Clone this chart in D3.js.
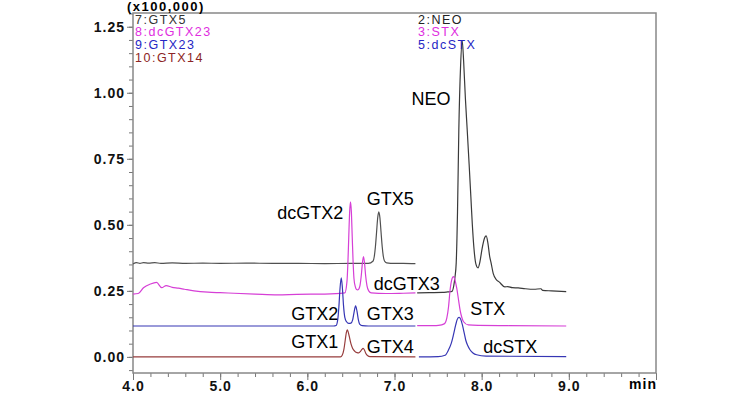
<!DOCTYPE html>
<html>
<head>
<meta charset="utf-8">
<script src="https://cdn.jsdelivr.net/npm/d3@7"></script>
<style>
  body { margin: 0; background: #fff; }
  text { font-family: "Liberation Sans", Arial, sans-serif; }
</style>
</head>
<body>
<div id="chart"></div>
<script>
// retention time (min), intensity (x100,000)
var gtx5 = [[4.00,0.352],[4.04,0.357],[4.08,0.354],[4.12,0.357],[4.18,0.355],[4.25,0.357],[4.32,0.354],
  [4.45,0.356],[4.60,0.354],[4.80,0.355],[5.00,0.354],[5.30,0.355],[5.60,0.354],[5.90,0.354],[6.20,0.353],
  [6.50,0.354],[6.70,0.354],[6.755,0.363],[6.768,0.380],[6.781,0.417],[6.794,0.471],[6.807,0.526],[6.82,0.549],
  [6.833,0.526],[6.846,0.471],[6.859,0.417],[6.872,0.380],[6.885,0.363],[6.91,0.356],[7.00,0.354],[7.10,0.354],[7.24,0.353]];

var neo = [[7.26,0.242],[7.40,0.243],[7.55,0.244],[7.61,0.246],[7.66,0.248],[7.68,0.27],[7.693,0.30],[7.708,0.356],
  [7.723,0.55],[7.738,0.86],[7.758,1.10],[7.777,1.197],[7.793,1.12],[7.813,0.98],[7.834,0.86],[7.856,0.73],
  [7.876,0.606],[7.893,0.50],[7.91,0.417],[7.935,0.35],[7.958,0.337],[7.98,0.36],[8.005,0.41],[8.033,0.45],
  [8.052,0.458],[8.072,0.43],[8.092,0.38],[8.108,0.356],[8.133,0.315],[8.17,0.292],[8.20,0.284],[8.266,0.265],
  [8.30,0.266],[8.35,0.262],[8.42,0.261],[8.50,0.258],[8.60,0.256],[8.68,0.258],[8.70,0.252],[8.80,0.250],[8.97,0.247]];

var dcgtx23 = [[4.00,0.238],[4.06,0.240],[4.12,0.262],[4.20,0.276],[4.27,0.282],[4.33,0.262],[4.38,0.270],
  [4.45,0.263],[4.52,0.260],[4.59,0.256],[4.70,0.250],[4.86,0.245],[5.00,0.243],[5.16,0.241],[5.40,0.238],
  [5.66,0.235],[5.88,0.237],[6.20,0.238],[6.43,0.242],[6.455,0.287],[6.465,0.353],[6.475,0.451],[6.485,0.546],
  [6.495,0.587],[6.505,0.550],[6.515,0.455],[6.525,0.360],[6.535,0.297],[6.55,0.266],[6.565,0.255],[6.575,0.254],
  [6.59,0.257],[6.605,0.272],[6.62,0.312],[6.632,0.356],[6.644,0.380],[6.656,0.356],[6.669,0.307],[6.684,0.270],
  [6.704,0.250],[6.734,0.242],[6.90,0.240],[7.10,0.241],[7.24,0.242]];

var stx = [[7.26,0.118],[7.45,0.118],[7.505,0.119],[7.57,0.125],[7.60,0.147],[7.62,0.19],[7.638,0.254],
  [7.655,0.290],[7.676,0.304],[7.695,0.290],[7.714,0.260],[7.735,0.215],[7.752,0.178],[7.77,0.152],
  [7.79,0.134],[7.847,0.121],[7.96,0.119],[8.30,0.118],[8.97,0.117]];

var gtx23 = [[4.00,0.117],[5.00,0.117],[6.00,0.117],[6.30,0.117],[6.33,0.119],[6.35,0.144],[6.362,0.190],
  [6.375,0.259],[6.389,0.299],[6.402,0.262],[6.415,0.195],[6.43,0.150],[6.45,0.133],[6.475,0.127],[6.50,0.128],
  [6.52,0.140],[6.535,0.167],[6.554,0.193],[6.57,0.172],[6.585,0.141],[6.60,0.124],[6.63,0.118],[6.70,0.117],[7.24,0.117]];

var dcstx = [[7.28,0.000],[7.50,0.001],[7.58,0.006],[7.619,0.026],[7.65,0.050],[7.676,0.083],[7.702,0.121],
  [7.72,0.142],[7.741,0.150],[7.76,0.142],[7.779,0.121],[7.80,0.090],[7.817,0.064],[7.84,0.043],[7.866,0.027],
  [7.90,0.015],[7.942,0.008],[8.05,0.003],[8.97,0.001]];

var gtx14 = [[4.00,0.000],[5.00,0.000],[6.00,0.000],[6.38,0.000],[6.40,0.006],[6.42,0.029],[6.435,0.064],
  [6.448,0.093],[6.458,0.102],[6.47,0.093],[6.485,0.072],[6.50,0.050],[6.52,0.032],[6.545,0.021],[6.57,0.016],
  [6.59,0.015],[6.61,0.021],[6.625,0.028],[6.64,0.032],[6.655,0.026],[6.67,0.014],[6.69,0.005],[6.72,0.001],[7.24,0.000]];

var traces = [gtx5, neo, dcgtx23, stx, gtx23, dcstx, gtx14];
var traceColors = ["#505050", "#3a3a3a", "#d63fd6", "#d63fd6", "#3636b4", "#3636b4", "#973d3d"];

var xTicks = [4, 5, 6, 7, 8, 9];
var xTickLabels = ["4.0", "5.0", "6.0", "7.0", "8.0", "9.0"];
var yTicks = [0, 0.25, 0.5, 0.75, 1.0, 1.25];
var yTickLabels = ["0.00", "0.25", "0.50", "0.75", "1.00", "1.25"];

var legendLeft = ["7:GTX5", "8:dcGTX23", "9:GTX23", "10:GTX14"];
var legendLeftColors = ["#333333", "#e02ee0", "#2626c4", "#8c2424"];
var legendRight = ["2:NEO", "3:STX", "5:dcSTX"];
var legendRightColors = ["#222222", "#e02ee0", "#2626c4"];

// peak names, anchored at (time, intensity) of their lower-left corner
var peakNames = ["NEO", "GTX5", "dcGTX2", "dcGTX3", "GTX2", "GTX3", "STX", "GTX1", "GTX4", "dcSTX"];
var peakT = [7.196, 6.683, 5.655, 6.763, 5.815, 6.683, 7.870, 5.815, 6.683, 8.018];
var peakV = [0.955, 0.576, 0.523, 0.254, 0.140, 0.140, 0.159, 0.034, 0.015, 0.015];

// set the dimensions and margins of the graph
var margin = {top: 13, right: 100, bottom: 23, left: 133},
    width = 756 - margin.left - margin.right,
    height = 396 - margin.top - margin.bottom;

var svg = d3.select("#chart")
  .append("svg")
    .attr("width", 756)
    .attr("height", 396)
  .append("g")
    .attr("transform", "translate(" + margin.left + "," + margin.top + ")");

var x = d3.scaleLinear().domain([4, 10]).range([0, width]);
var y = d3.scaleLinear().domain([-0.061, 1.302]).range([height, 0]);

// minor ticks
var xMinor = d3.range(20, 51).map(function(d) { return d / 5; });
var yMinor = d3.range(-1, 27).map(function(d) { return d * 0.05; });

function styleTicks(g) {
  g.select(".domain").remove();
  g.selectAll("line").attr("stroke", "#777");
  g.selectAll("text").attr("font-size", 14).attr("font-weight", "bold")
    .attr("fill", "#111").style("letter-spacing", "1px")
    .style("font-family", "'Liberation Sans', Arial, sans-serif");
}

svg.append("g")
  .attr("transform", "translate(0," + height + ")")
  .call(d3.axisBottom(x).tickValues(xMinor).tickSize(4).tickFormat(""))
  .call(styleTicks);

svg.append("g")
  .call(d3.axisLeft(y).tickValues(yMinor).tickSize(4).tickFormat(""))
  .call(styleTicks);

// major ticks with labels
svg.append("g")
  .attr("transform", "translate(0," + height + ")")
  .call(d3.axisBottom(x).tickValues(xTicks.concat([10])).tickSize(7).tickPadding(1)
    .tickFormat(function(d, i) { return i < xTickLabels.length ? xTickLabels[i] : ""; }))
  .call(styleTicks);

svg.append("g")
  .call(d3.axisLeft(y).tickValues(yTicks).tickSize(6).tickPadding(2)
    .tickFormat(function(d, i) { return yTickLabels[i]; }))
  .call(styleTicks);

// frame
svg.append("rect")
  .attr("width", width)
  .attr("height", height)
  .attr("fill", "none")
  .attr("stroke", "#888")
  .attr("stroke-width", 1.5);

svg.append("text")
  .attr("x", x(10) - 13)
  .attr("y", height + 16)
  .attr("text-anchor", "middle")
  .attr("font-size", 14)
  .attr("font-weight", "bold")
  .style("letter-spacing", "1px")
  .text("min");

svg.append("text")
  .attr("x", -6)
  .attr("y", -2.5)
  .attr("font-size", 13)
  .attr("font-weight", "bold")
  .style("letter-spacing", "1.5px")
  .text("(x100,000)");

// chromatogram traces
var line = d3.line()
  .x(function(d) { return x(d[0]); })
  .y(function(d) { return y(d[1]); })
  .curve(d3.curveMonotoneX);

svg.selectAll(".trace")
  .data(traces)
  .enter().append("path")
    .attr("class", "trace")
    .attr("d", line)
    .attr("fill", "none")
    .attr("stroke", function(d, i) { return traceColors[i]; })
    .attr("stroke-width", 1.2);

// legends
svg.selectAll(".legL")
  .data(legendLeft)
  .enter().append("text")
    .attr("class", "legL")
    .attr("x", 2)
    .attr("y", function(d, i) { return 10.5 + i * 12.8; })
    .attr("font-size", 12.5)
    .style("letter-spacing", "1.5px")
    .attr("fill", function(d, i) { return legendLeftColors[i]; })
    .text(function(d) { return d; });

svg.selectAll(".legR")
  .data(legendRight)
  .enter().append("text")
    .attr("class", "legR")
    .attr("x", 285)
    .attr("y", function(d, i) { return 10.5 + i * 12.8; })
    .attr("font-size", 12.5)
    .style("letter-spacing", "1.5px")
    .attr("fill", function(d, i) { return legendRightColors[i]; })
    .text(function(d) { return d; });

// peak annotations
svg.selectAll(".peak")
  .data(peakNames)
  .enter().append("text")
    .attr("class", "peak")
    .attr("x", function(d, i) { return x(peakT[i]); })
    .attr("y", function(d, i) { return y(peakV[i]); })
    .attr("font-size", 18)
    .attr("fill", "#000")
    .text(function(d) { return d; });
</script>
</body>
</html>
